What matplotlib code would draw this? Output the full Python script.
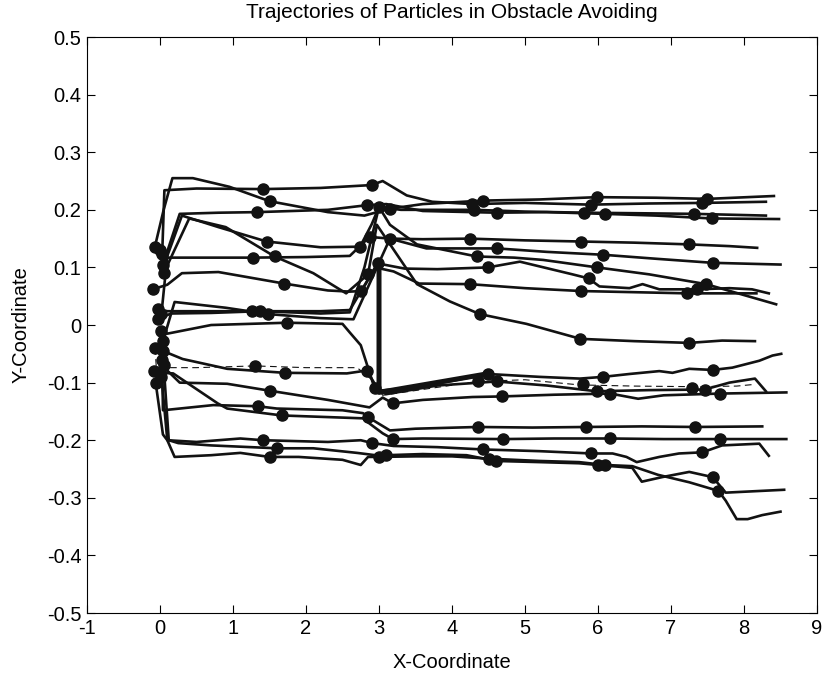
import matplotlib
matplotlib.use("Agg")
import matplotlib.pyplot as plt

plt.rcParams['font.family'] = ['Liberation Sans', 'DejaVu Sans']
plt.rcParams['axes.unicode_minus'] = False

# particle paths (waypoints), one sub-list per particle
path_x = [
    [0.03, 0.06, 0.5, 1.41, 2.2, 2.9, 3.05, 3.38, 3.73, 4.28, 5.0, 5.9, 6.7, 7.43, 8.3],
    [-0.07, 0.05, 0.17, 0.45, 0.95, 1.5, 2.3, 2.8, 3.15, 3.6, 4.42, 5.2, 5.99, 6.8, 7.5, 8.41],
    [0.04, 0.27, 0.8, 1.33, 2.3, 2.83, 3.1, 3.6, 4.61, 5.3, 6.09, 6.8, 7.56, 8.48],
    [0.02, 0.1, 0.3, 0.8, 1.46, 2.2, 2.74, 2.9, 3.0, 3.3, 4.3, 5.0, 5.81, 6.6, 7.32, 8.3],
    [0.05, 0.4, 0.9, 1.57, 2.1, 2.55, 2.85, 2.97, 3.52, 3.97, 4.38, 5.02, 5.76, 6.5, 7.25, 7.7, 8.15],
    [0.0, 0.05, 0.6, 1.27, 2.0, 2.6, 2.87, 3.15, 3.6, 4.24, 5.0, 5.77, 6.5, 7.25, 7.8, 8.18],
    [-0.1, 0.1, 0.3, 0.8, 1.7, 2.3, 2.6, 2.76, 2.95, 3.2, 3.55, 4.24, 5.0, 5.77, 6.5, 7.22, 8.17],
    [-0.03, 0.1, 0.7, 1.26, 2.2, 2.6, 2.98, 3.35, 3.8, 4.49, 4.93, 5.65, 5.87, 6.02, 6.43, 6.61,
     6.84, 7.36, 7.8, 8.11, 8.34],
    [-0.03, 0.15, 0.7, 1.37, 2.2, 2.6, 2.8, 3.0, 3.15, 3.52, 4.34, 4.85, 5.25, 5.99, 6.7, 7.48, 8.0, 8.44],
    [0.04, 0.2, 0.9, 1.48, 2.2, 2.65, 2.9, 3.15, 3.65, 4.62, 5.3, 6.07, 6.8, 7.57, 8.5],
    [0.02, 0.1, 0.7, 1.74, 2.5, 2.6, 2.75, 2.94, 3.1, 3.8, 4.61, 5.3, 5.98, 6.7, 7.46, 7.8, 8.15, 8.3],
    [0.04, 0.31, 0.92, 1.71, 2.56, 2.83, 3.0, 3.5, 4.0, 4.49, 5.2, 5.75, 6.07, 6.43, 6.84, 7.02,
     7.25, 7.57, 7.84, 8.21, 8.39, 8.51],
    [-0.08, 0.1, 0.27, 0.92, 1.5, 2.3, 2.87, 3.05, 3.19, 3.6, 4.28, 4.68, 5.4, 6.17, 6.55, 6.9, 7.67, 8.58],
    [0.03, 0.04, 0.73, 1.34, 1.6, 2.5, 2.78, 2.85, 3.15, 3.5, 4.35, 5.1, 5.84, 6.6, 7.33, 8.25],
    [0.0, 0.18, 0.79, 0.92, 1.67, 2.78, 2.87, 3.05, 3.19, 3.6, 4.7, 5.4, 6.17, 6.9, 7.67, 8.58],
    [-0.06, 0.04, 0.1, 0.5, 1.1, 1.41, 2.3, 2.75, 2.91, 3.2, 3.8, 4.42, 5.2, 5.91, 6.2, 6.39,
     6.53, 6.84, 7.11, 7.43, 7.7, 8.21, 8.34],
    [0.05, 0.12, 0.25, 0.7, 1.6, 2.1, 2.7, 2.95, 3.1, 3.6, 4.2, 4.6, 5.2, 5.74, 6.0, 6.47, 6.6,
     6.88, 7.25, 7.57, 7.75, 8.55],
    [0.02, 0.1, 0.2, 0.7, 1.1, 1.5, 1.9, 2.5, 2.75, 2.85, 3.0, 3.5, 4.0, 4.5, 5.2, 5.74, 6.1,
     6.47, 6.82, 7.25, 7.65, 7.75, 7.9, 8.05, 8.25, 8.5],
]
path_y = [
    [0.124, 0.234, 0.237, 0.236, 0.238, 0.243, 0.25, 0.225, 0.214, 0.21, 0.212, 0.209, 0.211, 0.212, 0.214],
    [0.136, 0.2, 0.255, 0.255, 0.24, 0.215, 0.196, 0.19, 0.202, 0.21, 0.216, 0.218, 0.222, 0.221, 0.219, 0.224],
    [0.105, 0.193, 0.195, 0.196, 0.2, 0.208, 0.21, 0.198, 0.195, 0.196, 0.193, 0.19, 0.185, 0.184],
    [0.02, 0.12, 0.19, 0.17, 0.145, 0.135, 0.136, 0.175, 0.205, 0.2, 0.2, 0.197, 0.195, 0.194, 0.193, 0.19],
    [0.09, 0.185, 0.17, 0.119, 0.09, 0.055, 0.088, 0.174, 0.071, 0.041, 0.019, 0.002, -0.024, -0.028,
     -0.031, -0.027, -0.028],
    [0.13, 0.117, 0.117, 0.117, 0.118, 0.12, 0.153, 0.15, 0.149, 0.15, 0.147, 0.145, 0.143, 0.14, 0.137, 0.134],
    [0.062, 0.07, 0.09, 0.092, 0.072, 0.06, 0.058, 0.059, 0.1, 0.093, 0.072, 0.071, 0.064, 0.059, 0.057,
     0.055, 0.055],
    [0.028, 0.024, 0.024, 0.024, 0.024, 0.026, 0.107, 0.098, 0.097, 0.1, 0.11, 0.088, 0.081, 0.067, 0.064,
     0.071, 0.062, 0.062, 0.064, 0.062, 0.055],
    [0.01, 0.02, 0.021, 0.024, 0.02, 0.022, 0.1, 0.205, 0.174, 0.14, 0.119, 0.117, 0.113, 0.1, 0.088,
     0.071, 0.052, 0.036],
    [-0.028, 0.04, 0.03, 0.019, 0.012, 0.01, 0.08, 0.15, 0.133, 0.133, 0.127, 0.122, 0.115, 0.108, 0.105],
    [-0.01, -0.015, 0.0, 0.004, 0.002, -0.013, -0.035, -0.11, -0.12, -0.105, -0.098, -0.105, -0.115,
     -0.113, -0.112, -0.1, -0.093, -0.115],
    [-0.045, -0.059, -0.076, -0.083, -0.084, -0.079, -0.114, -0.108, -0.097, -0.085, -0.09, -0.093, -0.09,
     -0.085, -0.08, -0.083, -0.076, -0.078, -0.074, -0.062, -0.053, -0.05],
    [-0.079, -0.079, -0.1, -0.102, -0.114, -0.13, -0.143, -0.126, -0.136, -0.13, -0.125, -0.124, -0.121,
     -0.119, -0.128, -0.122, -0.119, -0.117],
    [-0.06, -0.148, -0.139, -0.141, -0.145, -0.148, -0.153, -0.16, -0.183, -0.18, -0.177, -0.178, -0.177,
     -0.176, -0.177, -0.176],
    [-0.083, -0.084, -0.136, -0.145, -0.157, -0.162, -0.171, -0.188, -0.198, -0.197, -0.198, -0.197,
     -0.197, -0.198, -0.198, -0.198],
    [-0.1, -0.19, -0.2, -0.203, -0.197, -0.2, -0.203, -0.2, -0.205, -0.21, -0.212, -0.216, -0.219, -0.223,
     -0.223, -0.229, -0.238, -0.229, -0.223, -0.221, -0.209, -0.206, -0.227],
    [-0.07, -0.2, -0.205, -0.209, -0.214, -0.214, -0.222, -0.226, -0.226, -0.224, -0.226, -0.236, -0.238,
     -0.24, -0.243, -0.248, -0.272, -0.264, -0.255, -0.264, -0.291, -0.286],
    [-0.09, -0.2, -0.229, -0.226, -0.222, -0.229, -0.229, -0.234, -0.243, -0.229, -0.229, -0.228, -0.228,
     -0.232, -0.236, -0.238, -0.243, -0.245, -0.26, -0.273, -0.288, -0.305, -0.337, -0.337, -0.33, -0.324],
]

# sampled positions (dots) of each particle
dot_x = [
    [0.03, 1.41, 2.9, 4.28, 5.9, 7.43],
    [-0.07, 1.5, 3.15, 4.42, 5.99, 7.5],
    [0.04, 1.33, 2.83, 4.61, 6.09, 7.56],
    [0.02, 1.46, 2.74, 4.3, 5.81, 7.32],
    [0.05, 1.57, 2.85, 4.38, 5.76, 7.25],
    [0.0, 1.27, 2.87, 4.24, 5.77, 7.25],
    [-0.1, 1.7, 2.76, 4.24, 5.77, 7.22],
    [-0.03, 1.26, 2.98, 4.49, 5.87, 7.36],
    [-0.03, 1.37, 3.0, 4.34, 5.99, 7.48],
    [0.04, 1.48, 3.15, 4.62, 6.07, 7.57],
    [0.02, 1.74, 2.94, 4.61, 5.98, 7.46],
    [0.04, 1.71, 2.83, 4.49, 6.07, 7.57],
    [-0.08, 1.5, 3.19, 4.68, 6.17, 7.67],
    [0.03, 1.34, 2.85, 4.35, 5.84, 7.33],
    [0.0, 1.67, 3.19, 4.7, 6.17, 7.67],
    [-0.06, 1.41, 2.91, 4.42, 5.91, 7.43],
    [0.05, 1.6, 3.1, 4.6, 6.0, 7.57],
    [0.02, 1.5, 3.0, 4.5, 6.1, 7.65],
]
dot_y = [
    [0.124, 0.236, 0.243, 0.21, 0.209, 0.212],
    [0.136, 0.215, 0.202, 0.216, 0.222, 0.219],
    [0.105, 0.196, 0.208, 0.195, 0.193, 0.185],
    [0.02, 0.145, 0.136, 0.2, 0.195, 0.193],
    [0.09, 0.119, 0.088, 0.019, -0.024, -0.031],
    [0.13, 0.117, 0.153, 0.15, 0.145, 0.14],
    [0.062, 0.072, 0.059, 0.071, 0.059, 0.055],
    [0.028, 0.024, 0.107, 0.1, 0.081, 0.062],
    [0.01, 0.024, 0.205, 0.119, 0.1, 0.071],
    [-0.028, 0.019, 0.15, 0.133, 0.122, 0.108],
    [-0.01, 0.004, -0.11, -0.098, -0.115, -0.112],
    [-0.045, -0.083, -0.079, -0.085, -0.09, -0.078],
    [-0.079, -0.114, -0.136, -0.124, -0.119, -0.119],
    [-0.06, -0.141, -0.16, -0.177, -0.177, -0.177],
    [-0.083, -0.157, -0.198, -0.198, -0.197, -0.198],
    [-0.1, -0.2, -0.205, -0.216, -0.223, -0.221],
    [-0.07, -0.214, -0.226, -0.236, -0.243, -0.264],
    [-0.09, -0.229, -0.229, -0.232, -0.243, -0.288],
]

# dashed particle and its dots
dash_x = [-0.07, -0.05, 0.5, 1.3, 2.0, 2.7, 2.95, 3.05, 4.35, 5.0, 5.75, 6.5, 7.29, 7.9, 8.15]
dash_y = [-0.04, -0.074, -0.074, -0.071, -0.074, -0.074, -0.1, -0.122, -0.098, -0.095, -0.104, -0.106,
          -0.107, -0.106, -0.103]
dash_dot_x = [-0.07, 1.3, 4.35, 5.8, 7.29]
dash_dot_y = [-0.04, -0.071, -0.098, -0.103, -0.109]

# thick jump near x = 3
jump_x = [3.0, 3.0, 4.47]
jump_y = [0.107, -0.117, -0.085]

ink = '#121212'

fig = plt.figure(figsize=(8.24, 6.77), dpi=100)
ax = fig.add_axes([0.1056, 0.0945, 0.8859, 0.8508])

for px, py in zip(path_x, path_y):
    ax.plot(px, py, color=ink, lw=1.9, solid_joinstyle='round')
ax.plot(dash_x, dash_y, color=ink, lw=0.8, ls=(0, (6, 4)))
ax.plot(jump_x, jump_y, color=ink, lw=3.6, solid_joinstyle='round')

for dx, dy in zip(dot_x, dot_y):
    ax.plot(dx, dy, ls='none', marker='o', ms=8, color=ink)
ax.plot(dash_dot_x, dash_dot_y, ls='none', marker='o', ms=8, color=ink)

ax.set_xlim(-1, 9)
ax.set_ylim(-0.5, 0.5)
ax.set_xticks(range(-1, 10))
ax.set_yticks([-0.5, -0.4, -0.3, -0.2, -0.1, 0, 0.1, 0.2, 0.3, 0.4, 0.5])
ax.set_yticklabels(['-0.5', '-0.4', '-0.3', '-0.2', '-0.1', '0', '0.1', '0.2', '0.3', '0.4', '0.5'])
ax.tick_params(direction='in', top=True, right=True, length=6, width=0.8, labelsize=14.5, pad=4)
for s in ax.spines.values():
    s.set_linewidth(0.8)

ax.set_title('Trajectories of Particles in Obstacle Avoiding', fontsize=15, pad=14)
ax.set_xlabel('X-Coordinate', fontsize=14.5, labelpad=11)
ax.set_ylabel('Y-Coordinate', fontsize=14.5, labelpad=12)

fig.savefig('out.png', dpi=100)
